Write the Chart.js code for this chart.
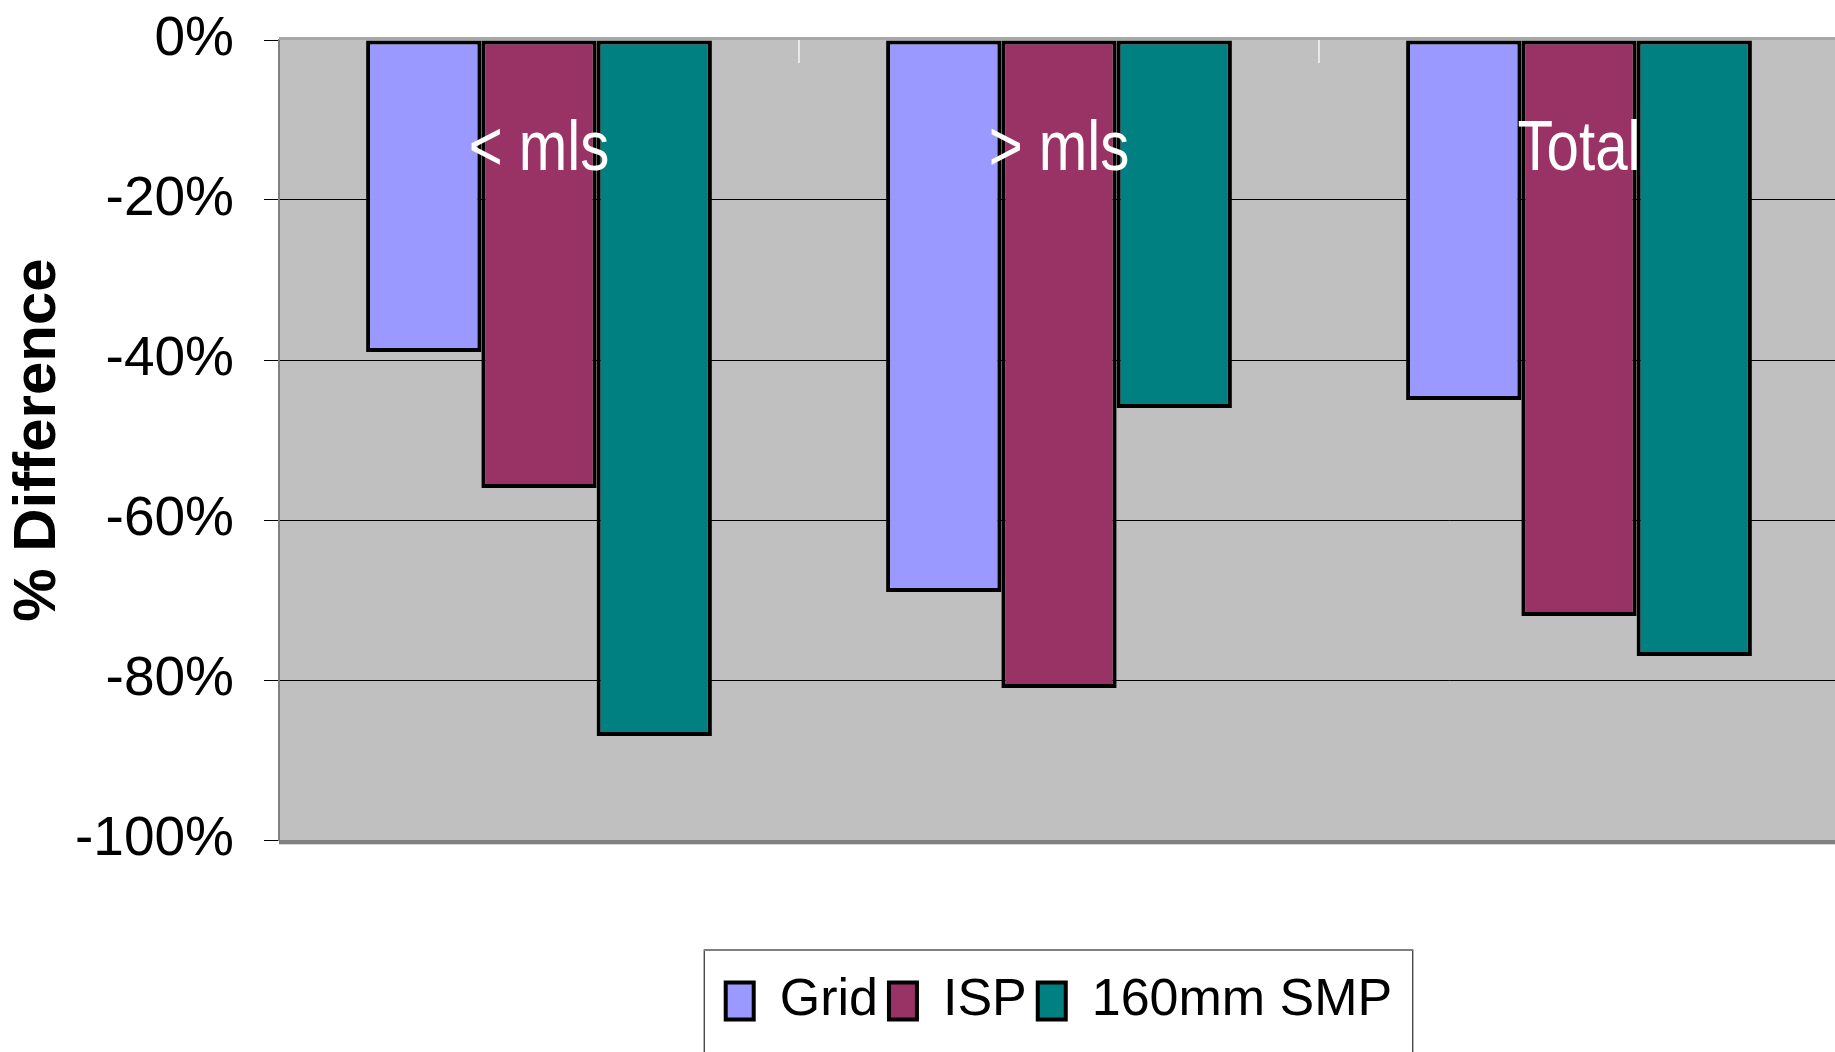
<!DOCTYPE html>
<html>
<head>
<meta charset="utf-8">
<script src="https://cdn.jsdelivr.net/npm/chart.js@4.4.1/dist/chart.umd.min.js"></script>
<style>
body { margin: 0; background: #fff; overflow: hidden; }
</style>
</head>
<body>
<canvas id="myChart" width="1845" height="1052"></canvas>
<script>
// values
const categories = ['< mls', '> mls', 'Total'];
const seriesNames = ['Grid', 'ISP', '160mm SMP'];
const gridValues = [-39, -69, -45];
const ispValues = [-56, -81, -72];
const smpValues = [-87, -46, -77];
const yTicks = [0, -20, -40, -60, -80, -100];

const sans = "'Liberation Sans', Arial, sans-serif";

const plotDeco = {
    id: 'plotDeco',
    beforeDraw(chart) {
        const {ctx, chartArea: a} = chart;
        ctx.save();
        ctx.fillStyle = '#c0c0c0';
        ctx.fillRect(a.left, a.top, a.right - a.left, a.bottom - a.top);
        ctx.restore();
    },
    beforeDatasetsDraw(chart) {
        const {ctx, chartArea: a, scales} = chart;
        ctx.save();
        // light tick marks between categories, at the top
        ctx.strokeStyle = '#e8e8e8';
        ctx.lineWidth = 2;
        for (let i = 0; i < categories.length - 1; i++) {
            const x = Math.round((scales.x.getPixelForValue(i) + scales.x.getPixelForValue(i + 1)) / 2);
            ctx.beginPath();
            ctx.moveTo(x, a.top);
            ctx.lineTo(x, a.top + 23);
            ctx.stroke();
        }
        ctx.restore();
    },
    afterDatasetsDraw(chart) {
        const {ctx, chartArea: a, scales} = chart;
        ctx.save();
        // frame of the plot
        ctx.fillStyle = '#a8a8a8';
        ctx.fillRect(a.left, a.top - 3, a.right - a.left, 3);
        ctx.fillStyle = '#808080';
        ctx.fillRect(a.left, a.bottom, a.right - a.left, 4);
        ctx.fillStyle = '#d8d8d8';
        ctx.fillRect(a.left, a.bottom + 4, a.right - a.left, 1);
        // category names, white, inside the plot (narrow lettering)
        ctx.fillStyle = '#ffffff';
        ctx.font = '71px ' + sans;
        ctx.textAlign = 'center';
        ctx.textBaseline = 'alphabetic';
        categories.forEach((c, i) => {
            ctx.save();
            ctx.translate(scales.x.getPixelForValue(i), a.top + 130);
            ctx.scale(0.82, 1);
            ctx.fillText(c, 0, 0);
            ctx.restore();
        });
        ctx.restore();
    },
    afterDraw(chart) {
        const boxes = chart.legend.legendHitBoxes;
        if (!boxes || !boxes.length) return;
        const {ctx} = chart;
        const first = boxes[0];
        const last = boxes[boxes.length - 1];
        const left = first.left - 22;
        const right = last.left + last.width + 20;
        const top = first.top - 25;
        ctx.save();
        ctx.strokeStyle = '#000';
        ctx.lineWidth = 1;
        ctx.beginPath();
        ctx.moveTo(left + 0.5, chart.height);
        ctx.lineTo(left + 0.5, top);
        ctx.moveTo(right + 0.5, top);
        ctx.lineTo(right + 0.5, chart.height);
        ctx.stroke();
        ctx.strokeStyle = '#808080';
        ctx.lineWidth = 2;
        ctx.beginPath();
        ctx.moveTo(left, top);
        ctx.lineTo(right + 1, top);
        ctx.stroke();
        ctx.restore();
    }
};

const ctx = document.getElementById('myChart');
var chart = new Chart(ctx, {
    type: 'bar',
    data: {
        labels: categories,
        datasets: [{
            label: seriesNames[0],
            data: gridValues,
            backgroundColor: '#9999ff'
        }, {
            label: seriesNames[1],
            data: ispValues,
            backgroundColor: '#993366'
        }, {
            label: seriesNames[2],
            data: smpValues,
            backgroundColor: '#008080'
        }]
    },
    options: {
        responsive: false,
        animation: false,
        devicePixelRatio: 1,
        layout: {
            padding: {top: 40, right: 6, bottom: 15, left: 0}
        },
        datasets: {
            bar: {
                borderColor: '#000',
                borderWidth: 4,
                borderSkipped: false,
                barPercentage: 1,
                categoryPercentage: 0.665
            }
        },
        scales: {
            x: {
                display: false
            },
            y: {
                min: -100,
                max: 0,
                afterBuildTicks(scale) {
                    scale.ticks = yTicks.map(v => ({value: v}));
                },
                afterFit(scale) {
                    scale.width = 279;
                },
                grid: {
                    color: c => (c.tick && (c.tick.value === 0 || c.tick.value === -100)) ? 'rgba(0,0,0,0)' : '#000',
                    tickColor: '#000',
                    tickLength: 15,
                    lineWidth: 1
                },
                border: {
                    color: '#808080',
                    width: 2
                },
                ticks: {
                    color: '#000',
                    padding: 30,
                    font: {family: sans, size: 55, lineHeight: 0.3},
                    callback: v => v + '%'
                },
                title: {
                    display: true,
                    text: '% Difference',
                    color: '#000',
                    padding: {top: 2, bottom: 0},
                    font: {family: sans, size: 60, weight: 'bold'}
                }
            }
        },
        plugins: {
            tooltip: {enabled: false},
            legend: {
                position: 'bottom',
                fullSize: false,
                title: {
                    display: true,
                    text: '',
                    font: {size: 10},
                    padding: {top: 112, bottom: 0}
                },
                labels: {
                    color: '#000',
                    boxWidth: 28,
                    boxHeight: 37,
                    padding: 11,
                    font: {family: sans, size: 52}
                }
            }
        }
    },
    plugins: [plotDeco]
});
</script>
</body>
</html>
